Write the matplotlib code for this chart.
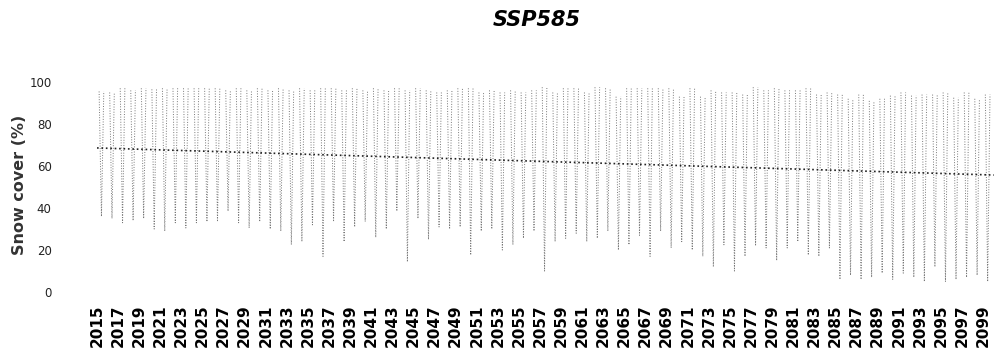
import numpy as np
from matplotlib import pyplot as plt

## data (yearly peak / summer low, %)
years = list(range(2015, 2100))
snow_max = [95.5, 95, 97, 96, 97, 96.5, 97, 97, 97, 97, 97, 97, 96, 97,
            96, 97, 96, 97, 96, 97, 96, 97, 97, 96, 97, 96, 97, 96,
            97, 96, 97, 96, 95, 96, 97, 97, 95, 96, 95, 96, 95, 96,
            97.5, 95, 97, 97, 95, 97.5, 97, 93, 97, 97, 97, 97, 97, 93,
            97, 93, 96, 95, 95, 94, 97.5, 96, 97, 96, 96, 97, 94, 95,
            94, 92, 94, 91, 92, 93.5, 95, 93.5, 94, 94, 95, 92.5, 95, 92, 94]
snow_min = [36, 35, 33, 34, 35, 30, 29, 33, 30.5, 33, 33.5, 33.5, 38.5, 33,
            30.5, 33.5, 30, 29, 22.5, 24, 32, 17, 33.5, 24, 31, 33.5, 26, 30,
            38.5, 14.4, 35, 25, 31, 30, 31, 17.6, 29, 30, 20, 22.5, 25.6, 29,
            10, 24, 25.6, 28, 24, 25.6, 29, 20, 22.5, 27, 17, 29, 21, 24,
            20, 17, 12, 22.5, 10, 17, 22, 21, 15, 21, 24, 17.6, 17, 21,
            6, 8, 6, 7, 9, 6, 9, 7, 5, 12, 5, 6, 7, 8, 5]
trend_years = [2015, 2100]
trend_vals = [68.6, 55.7]
tick_years = list(range(2015, 2100, 2))

## one narrow V per year: winter peak -> summer low -> back up
x = []
y = []
for yr, hi, lo in zip(years, snow_max, snow_min):
    x += [yr + 0.2, yr + 0.42, yr + 0.64, np.nan]
    y += [hi, lo, hi, np.nan]

fig = plt.figure(figsize=(9.98, 3.52), dpi=100)
ax = fig.add_axes([0.0601, 0.1477, 0.9399, 0.6307])

ax.plot(x, y, color='#777777', linestyle=':', linewidth=0.7)
ax.plot(trend_years, trend_vals, color='#222222', linestyle=':', linewidth=1.2)

ax.set_xlim(2011.49, 2100.4)
ax.set_ylim(-3.8, 101.9)
ax.set_yticks([0, 20, 40, 60, 80, 100])
ax.set_xticks(tick_years)
ax.set_xticklabels([str(t) for t in tick_years], rotation=90,
                   fontsize=11, fontweight='bold')
for lab in ax.get_yticklabels():
    lab.set_fontsize(8.5)
    lab.set_color('#222222')
ax.tick_params(axis='both', length=0)
ax.tick_params(axis='x', pad=3)
ax.tick_params(axis='y', pad=6)
for s in ax.spines.values():
    s.set_visible(False)

fig.text(537 / 998, 1 - 20 / 352, 'SSP585', ha='center', va='center',
         fontsize=15, fontweight='bold', fontstyle='italic')
fig.text(20 / 998, 1 - 185 / 352, 'Snow cover (%)', ha='center', va='center',
         rotation=90, fontsize=11.5, fontweight='bold', color='#333333')

fig.savefig('out.png', dpi=100)
